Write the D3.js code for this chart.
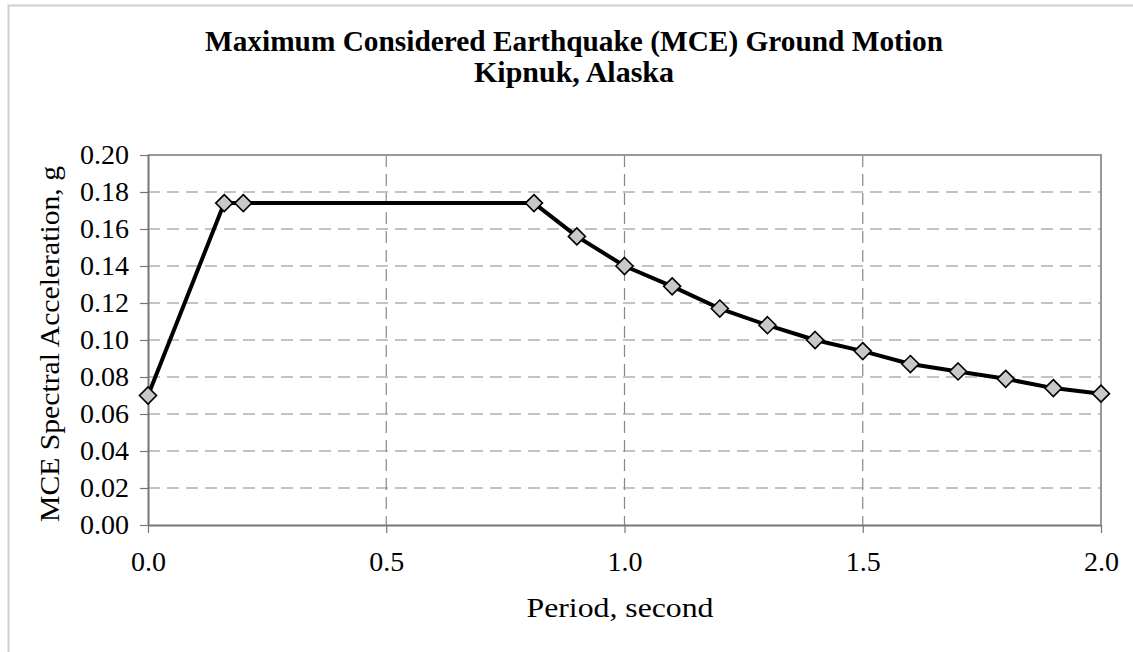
<!DOCTYPE html>
<html><head><meta charset="utf-8">
<script src="https://cdn.jsdelivr.net/npm/d3@7"></script>
<style>
html,body{margin:0;padding:0;background:#fff;}
svg text{font-family:"Liberation Serif","DejaVu Serif",serif;fill:#000;}
</style></head>
<body><svg id="c" width="1133" height="652"></svg>
<script>
const titleLines = ["Maximum Considered Earthquake (MCE) Ground Motion", "Kipnuk, Alaska"];
const xTitle = "Period, second";
const yTitle = "MCE Spectral Acceleration, g";
const periods = [0.0, 0.16, 0.2, 0.81, 0.9, 1.0, 1.1, 1.2, 1.3, 1.4, 1.5, 1.6, 1.7, 1.8, 1.9, 2.0];
const accel   = [0.070, 0.174, 0.174, 0.174, 0.156, 0.140, 0.129, 0.117, 0.108, 0.100, 0.094, 0.087, 0.083, 0.079, 0.074, 0.071];
const xTicks = [0.0, 0.5, 1.0, 1.5, 2.0];
const yTicks = [0.00, 0.02, 0.04, 0.06, 0.08, 0.10, 0.12, 0.14, 0.16, 0.18, 0.20];

const svg = d3.select("#c");
const L = 148, R = 1101, T = 155, B = 525;
const x = d3.scaleLinear().domain([0, 2]).range([L, R]);
const y = d3.scaleLinear().domain([0, 0.2]).range([B, T]);

// outer frame
svg.append("path").attr("d", "M8.5,652 V5.5 H1133").attr("fill", "none").attr("stroke", "#cfcfcf").attr("stroke-width", 2);

// gridlines
svg.append("g").selectAll("line").data(yTicks.filter(d => d > 0 && d < 0.2)).join("line")
  .attr("x1", L).attr("x2", R).attr("y1", d => y(d)).attr("y2", d => y(d))
  .attr("stroke", "#888").attr("stroke-width", 1.2).attr("stroke-dasharray", "12,7");
svg.append("g").selectAll("line").data(xTicks.filter(d => d > 0 && d < 2)).join("line")
  .attr("x1", d => x(d)).attr("x2", d => x(d)).attr("y1", T).attr("y2", B)
  .attr("stroke", "#888").attr("stroke-width", 1.2).attr("stroke-dasharray", "12,7");

// plot border top/right
svg.append("path").attr("d", `M${L},${T} H${R} V${B}`).attr("fill", "none").attr("stroke", "#999").attr("stroke-width", 2);

// axes
const yAxis = d3.axisLeft(y).tickValues(yTicks).tickFormat(d3.format(".2f")).tickSize(8).tickPadding(11);
const gy = svg.append("g").attr("transform", `translate(${L},0)`).call(yAxis);
const xAxis = d3.axisBottom(x).tickValues(xTicks).tickFormat(d3.format(".1f")).tickSize(8);
const gx = svg.append("g").attr("transform", `translate(0,${B})`).call(xAxis);
[gy, gx].forEach(g => {
  g.attr("font-size", null).attr("font-family", null);
  g.select(".domain").attr("stroke", "#777").attr("stroke-width", 2);
  g.selectAll(".tick line").attr("stroke", "#777").attr("stroke-width", 1.2);
  g.selectAll(".tick text").style("font-size", "28px").style("font-family", "'Liberation Serif', serif");
});
gx.selectAll(".tick text").attr("y", 46).attr("dy", 0);
gx.select(".domain").attr("d", `M${L},0.5H${R}`);
gy.select(".domain").attr("d", `M0.5,${B}V${T}`);

// line
const line = d3.line().x((d, i) => x(periods[i])).y(d => y(d));
svg.append("path").datum(accel).attr("d", line).attr("fill", "none").attr("stroke", "#000").attr("stroke-width", 4).attr("stroke-linejoin", "round");

// markers
const s = 8.5;
svg.append("g").selectAll("path").data(accel).join("path")
  .attr("d", (d, i) => { const cx = x(periods[i]), cy = y(d); return `M${cx},${cy - s}L${cx + s},${cy}L${cx},${cy + s}L${cx - s},${cy}Z`; })
  .attr("fill", "#c8c8c8").attr("stroke", "#000").attr("stroke-width", 1.6);

// titles
svg.append("text").attr("x", 574).attr("y", 51).attr("text-anchor", "middle").style("font-size", "30px").attr("font-weight", "bold")
  .attr("textLength", 738).attr("lengthAdjust", "spacingAndGlyphs").text(titleLines[0]);
svg.append("text").attr("x", 574).attr("y", 82).attr("text-anchor", "middle").style("font-size", "30px").attr("font-weight", "bold")
  .attr("textLength", 200).attr("lengthAdjust", "spacingAndGlyphs").text(titleLines[1]);
svg.append("text").attr("x", 620).attr("y", 617).attr("text-anchor", "middle").style("font-size", "28px")
  .attr("textLength", 187).attr("lengthAdjust", "spacingAndGlyphs").text(xTitle);
svg.append("text").attr("transform", "translate(59,344) rotate(-90)").attr("text-anchor", "middle").style("font-size", "28px")
  .attr("textLength", 356).attr("lengthAdjust", "spacingAndGlyphs").text(yTitle);
</script></body></html>
